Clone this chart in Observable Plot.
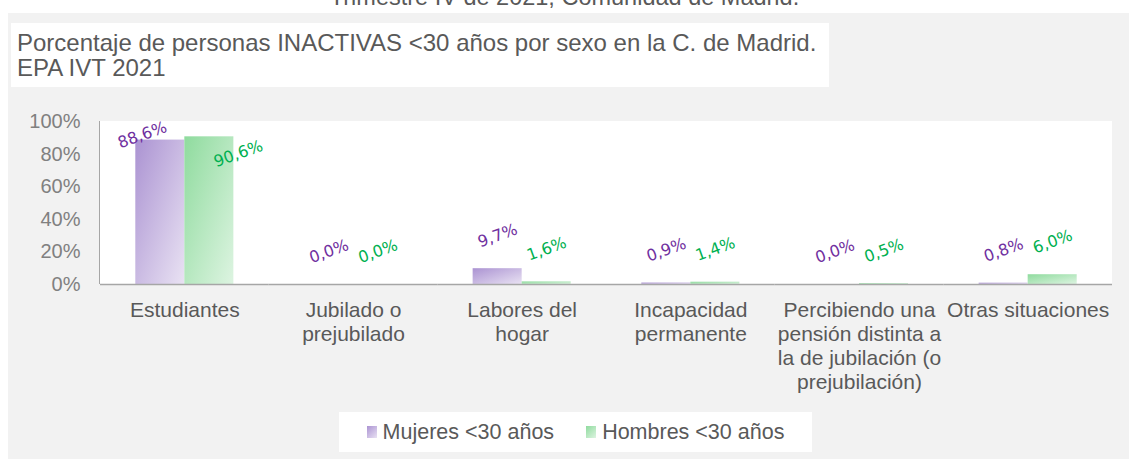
<!DOCTYPE html>
<html>
<head>
<meta charset="utf-8">
<script src="https://cdn.jsdelivr.net/npm/d3@7"></script>
<script src="https://cdn.jsdelivr.net/npm/@observablehq/plot@0.6"></script>
<style>
  html, body { margin: 0; padding: 0; background: #ffffff; }
  #root { position: relative; width: 1129px; height: 459px; overflow: hidden; font-family: "Liberation Sans", Arial, sans-serif; }
  #bg { position: absolute; left: 8px; top: 13px; right: 0; bottom: 0; background: #f2f2f2; }
  #toptext { position: absolute; left: 0; width: 1129px; top: -14px; text-align: center; font-size: 23.5px; line-height: 23px; color: #595959; white-space: nowrap; }
  #titlebox { position: absolute; left: 11px; top: 23px; width: 818px; height: 64px; background: #ffffff; box-sizing: border-box; padding: 7px 0 0 6px; font-size: 24px; line-height: 25px; color: #595959; white-space: nowrap; }
  #plotbg { position: absolute; left: 99px; top: 121px; width: 1013px; height: 163px; background: #ffffff; border-left: 1px solid #a6a6a6; box-sizing: border-box; }
  #chart { position: absolute; left: 0; top: 0; }
  #legend { position: absolute; left: 339px; top: 412px; width: 473px; height: 40px; background: #ffffff; display: flex; align-items: center; justify-content: center; font-size: 21.5px; color: #595959; }
  .item { display: flex; align-items: center; margin: 0 16px; }
  .sw { width: 10px; height: 12px; margin-right: 6px; }
</style>
</head>
<body>
<div id="root">
  <div id="bg"></div>
  <div id="toptext">Trimestre IV de 2021, Comunidad de Madrid.</div>
  <div id="titlebox">Porcentaje de personas INACTIVAS &lt;30 años por sexo en la C. de Madrid.<br>EPA IVT 2021</div>
  <div id="plotbg"></div>
  <div id="chart"></div>
  <div id="legend"></div>
</div>
<script>
// ---- data ----
const categories = ["Estudiantes", "Jubilado o prejubilado", "Labores del hogar", "Incapacidad permanente", "Percibiendo una pensión distinta a la de jubilación (o prejubilación)", "Otras situaciones"];
const categoryLabels = ["Estudiantes", "Jubilado o\nprejubilado", "Labores del\nhogar", "Incapacidad\npermanente", "Percibiendo una\npensión distinta a\nla de jubilación (o\nprejubilación)", "Otras situaciones"];
const series = ["Mujeres <30 años", "Hombres <30 años"];
const mujeres = [88.6, 0.0, 9.7, 0.9, 0.0, 0.8];
const hombres = [90.6, 0.0, 1.6, 1.4, 0.5, 6.0];
const yTicks = [0, 20, 40, 60, 80, 100];

const seriesColors = ["#7030a0", "#00b050"];
const gradStops = [["#ab93d2", "#e9e2f3"], ["#8fdb9e", "#ddf4e1"]];

const table = [];
categories.forEach((c, i) => {
  table.push({cat: c, sex: series[0], value: mujeres[i]});
  table.push({cat: c, sex: series[1], value: hombres[i]});
});
const labelOf = new Map(categories.map((c, i) => [c, categoryLabels[i]]));
const fmt = v => v.toFixed(1).replace(".", ",") + "%";

const defs = () => {
  const ns = "http://www.w3.org/2000/svg";
  const d = document.createElementNS(ns, "defs");
  gradStops.forEach((stops, i) => {
    const g = document.createElementNS(ns, "linearGradient");
    g.setAttribute("id", "grad" + i);
    g.setAttribute("x1", "0"); g.setAttribute("y1", "0");
    g.setAttribute("x2", "1"); g.setAttribute("y2", "1");
    stops.forEach((col, j) => {
      const s = document.createElementNS(ns, "stop");
      s.setAttribute("offset", j === 0 ? "0" : "1");
      s.setAttribute("stop-color", col);
      g.appendChild(s);
    });
    d.appendChild(g);
  });
  return d;
};

const labelFont = {fontFamily: "DejaVu Sans", fontSize: 16, rotate: -20, textAnchor: "middle"};

const chart = Plot.plot({
  width: 1129,
  height: 459,
  marginLeft: 100,
  marginRight: 17,
  marginTop: 121,
  marginBottom: 175,
  style: {background: "transparent", fontFamily: "Liberation Sans, Arial, sans-serif", fontSize: "20px", color: "#595959", overflow: "visible"},
  fx: {domain: categories, padding: 0, round: false, label: null},
  x: {domain: series, paddingInner: 0, paddingOuter: 0.72, round: false, axis: null},
  y: {domain: [0, 100], label: null},
  color: {domain: series, range: seriesColors},
  marks: [
    defs,
    Plot.barY(table.filter(d => d.sex === series[0]), {fx: "cat", x: "sex", y: "value", fill: "url(#grad0)"}),
    Plot.barY(table.filter(d => d.sex === series[1]), {fx: "cat", x: "sex", y: "value", fill: "url(#grad1)"}),
    Plot.ruleY([0], {stroke: "#a6a6a6", strokeWidth: 1.5}),
    Plot.axisY({ticks: yTicks, tickFormat: d => d + "%", tickSize: 0, tickPadding: 20, fill: "#808080", fontSize: 20, label: null}),
    Plot.axisFx({anchor: "bottom", tickSize: 0, tickPadding: 15, tickFormat: d => labelOf.get(d), lineHeight: 24 / 21, fill: "#595959", fontSize: 21, label: null}),
    Plot.text(table.filter(d => d.value < 50), {fx: "cat", x: "sex", y: "value", text: d => fmt(d.value), fill: "sex", dy: -33, ...labelFont}),
    Plot.text(table.filter(d => d.value >= 50 && d.sex === series[0]), {fx: "cat", x: "sex", y: "value", text: d => fmt(d.value), fill: seriesColors[0], dx: -18, dy: -5, ...labelFont}),
    Plot.text(table.filter(d => d.value >= 50 && d.sex === series[1]), {fx: "cat", x: "sex", y: "value", text: d => fmt(d.value), fill: seriesColors[1], dx: 29, dy: 17, ...labelFont})
  ]
});
document.getElementById("chart").appendChild(chart);

const legend = document.getElementById("legend");
series.forEach((s, i) => {
  const item = document.createElement("div");
  item.className = "item";
  const sw = document.createElement("div");
  sw.className = "sw";
  sw.style.background = `linear-gradient(135deg, ${gradStops[i][0]}, ${gradStops[i][1]})`;
  const t = document.createElement("span");
  t.textContent = s;
  item.appendChild(sw); item.appendChild(t);
  legend.appendChild(item);
});
</script>
</body>
</html>
